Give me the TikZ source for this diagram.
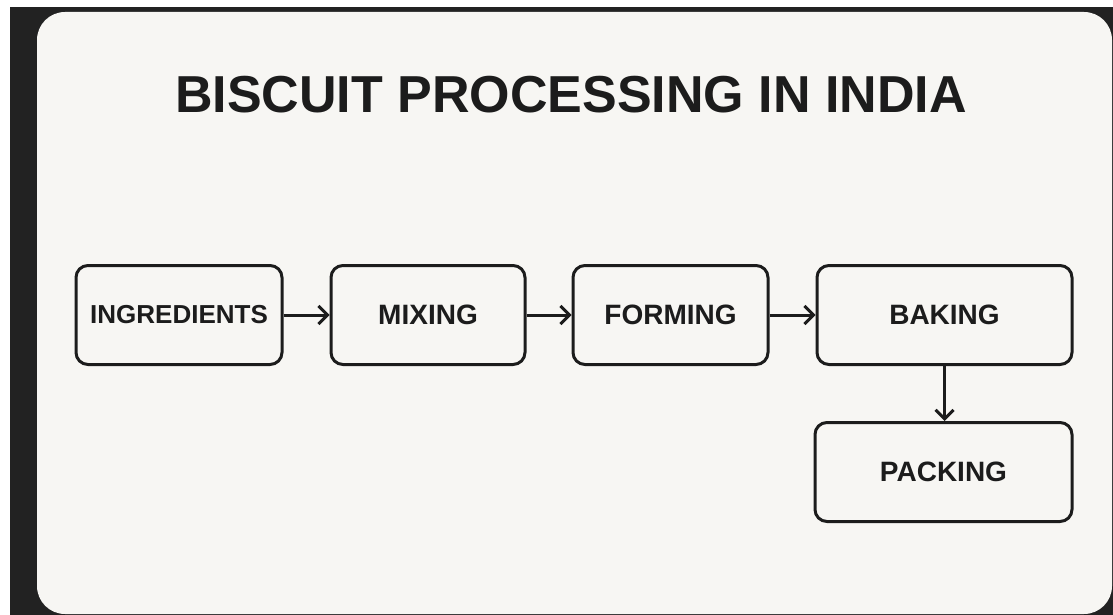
\documentclass[tikz,border=0pt]{standalone}
\usepackage{fontspec}
\setmainfont{Liberation Sans}
\usetikzlibrary{arrows.meta,positioning}
\definecolor{PanelBg}{HTML}{F7F6F3}
\definecolor{FrameDark}{HTML}{222222}
\definecolor{InkBlack}{HTML}{1C1C1C}

\begin{document}
\begin{tikzpicture}[
    x=1pt, y=-1pt,
    font=\bfseries\fontsize{28}{32}\selectfont,
    stage/.style={rectangle, rounded corners=12pt, draw=InkBlack, line width=3pt, fill=PanelBg, text=InkBlack, align=center, minimum height=99pt},
    arrow/.style={-{Straight Barb[length=9pt,width=18pt]}, line width=3pt, draw=InkBlack}
]
% frame and panel
\useasboundingbox (0,0) rectangle (1113,615);
\fill[white] (0,0) rectangle (1113,615);
\fill[FrameDark] (10,7) rectangle (1113,615);
\fill[PanelBg, rounded corners=28pt] (37,12) rectangle (1112,614);

\node[text=InkBlack, font=\bfseries\fontsize{52}{60}\selectfont] (title) at (571,95) {BISCUIT PROCESSING IN INDIA};

\node[stage, minimum width=206pt, font=\bfseries\fontsize{26}{30}\selectfont] (ingredients) at (179,315) {INGREDIENTS};
\node[stage, minimum width=194pt, right=46pt of ingredients] (mixing) {MIXING};
\node[stage, minimum width=195pt, right=45pt of mixing] (forming) {FORMING};
\node[stage, minimum width=255pt, right=46pt of forming] (baking) {BAKING};
\node[stage, minimum width=257pt, below=55pt of baking.south, anchor=north, xshift=-1pt] (packing) {PACKING};

\draw[arrow] (ingredients) -- (mixing);
\draw[arrow] (mixing) -- (forming);
\draw[arrow] (forming) -- (baking);
\draw[arrow] (baking) -- (baking |- packing.north);
\end{tikzpicture}
\end{document}
